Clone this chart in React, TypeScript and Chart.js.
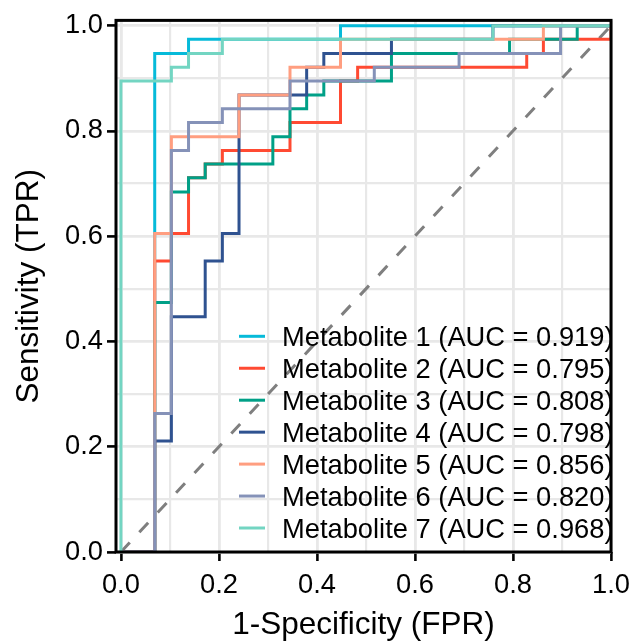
import React, { useEffect, useRef } from 'react';
import { Chart, registerables } from 'chart.js';

Chart.register(...registerables);

// ---- data ----
const names = ['Metabolite 1', 'Metabolite 2', 'Metabolite 3', 'Metabolite 4', 'Metabolite 5', 'Metabolite 6', 'Metabolite 7'];
const aucs = ['0.919', '0.795', '0.808', '0.798', '0.856', '0.820', '0.968'];
const colors = ['#06BAD9', '#FF4A32', '#00A087', '#2F5290', '#FF9E80', '#8592B8', '#73D5C2'];

const fpr1 = [0, 0.069, 0.069, 0.138, 0.138, 0.448, 0.448, 1];
const tpr1 = [0, 0, 0.947, 0.947, 0.974, 0.974, 1, 1];

const fpr2 = [0, 0.069, 0.069, 0.103, 0.103, 0.138, 0.138, 0.172, 0.172, 0.207, 0.207, 0.345, 0.345, 0.448, 0.448, 0.483, 0.483, 0.828, 0.828, 0.862, 0.862, 1, 1];
const tpr2 = [0, 0, 0.553, 0.553, 0.605, 0.605, 0.711, 0.711, 0.737, 0.737, 0.763, 0.763, 0.816, 0.816, 0.895, 0.895, 0.921, 0.921, 0.947, 0.947, 0.974, 0.974, 1];

const fpr3 = [0, 0.069, 0.069, 0.103, 0.103, 0.138, 0.138, 0.172, 0.172, 0.310, 0.310, 0.345, 0.345, 0.379, 0.379, 0.414, 0.414, 0.552, 0.552, 0.793, 0.793, 0.931, 0.931, 1];
const tpr3 = [0, 0, 0.474, 0.474, 0.684, 0.684, 0.711, 0.711, 0.737, 0.737, 0.789, 0.789, 0.842, 0.842, 0.868, 0.868, 0.895, 0.895, 0.947, 0.947, 0.974, 0.974, 1, 1];

const fpr4 = [0, 0.069, 0.069, 0.103, 0.103, 0.172, 0.172, 0.207, 0.207, 0.241, 0.241, 0.379, 0.379, 0.414, 0.414, 0.552, 0.552, 0.759, 0.759, 1];
const tpr4 = [0, 0, 0.211, 0.211, 0.447, 0.447, 0.553, 0.553, 0.605, 0.605, 0.868, 0.868, 0.921, 0.921, 0.947, 0.947, 0.974, 0.974, 1, 1];

const fpr5 = [0, 0.069, 0.069, 0.103, 0.103, 0.241, 0.241, 0.345, 0.345, 0.448, 0.448, 0.862, 0.862, 1];
const tpr5 = [0, 0, 0.605, 0.605, 0.789, 0.789, 0.868, 0.868, 0.921, 0.921, 0.974, 0.974, 1, 1];

const fpr6 = [0, 0.069, 0.069, 0.103, 0.103, 0.138, 0.138, 0.207, 0.207, 0.345, 0.345, 0.517, 0.517, 0.690, 0.690, 0.897, 0.897, 1];
const tpr6 = [0, 0, 0.263, 0.263, 0.763, 0.763, 0.816, 0.816, 0.842, 0.842, 0.895, 0.895, 0.921, 0.921, 0.947, 0.947, 1, 1];

const fpr7 = [0, 0, 0.103, 0.103, 0.138, 0.138, 0.207, 0.207, 0.759, 0.759, 1];
const tpr7 = [0, 0.895, 0.895, 0.921, 0.921, 0.947, 0.947, 0.974, 0.974, 1, 1];

const diagX = [0, 1];
const diagY = [0, 1];

const xTicks = [0, 0.1, 0.2, 0.3, 0.4, 0.5, 0.6, 0.7, 0.8, 0.9, 1.0];
const yTicks = [0, 0.1, 0.2, 0.3, 0.4, 0.5, 0.6, 0.7, 0.8, 0.9, 1.0];

const FONT = '"Liberation Sans", Arial, sans-serif';

const isMajor = (v: number) => Math.abs(Math.round(v * 10)) % 2 === 0;

export default function App() {
  const ref = useRef<HTMLCanvasElement | null>(null);

  useEffect(() => {
    const canvas = ref.current;
    if (!canvas) return;

    const series = [
      [fpr1, tpr1], [fpr2, tpr2], [fpr3, tpr3], [fpr4, tpr4],
      [fpr5, tpr5], [fpr6, tpr6], [fpr7, tpr7],
    ];

    const datasets: any[] = series.map(([f, t], i) => ({
      label: `${names[i]} (AUC = ${aucs[i]})`,
      data: f.map((x, k) => ({ x, y: t[k] })),
      borderColor: colors[i],
      backgroundColor: colors[i],
      borderWidth: 3,
      pointRadius: 0,
      tension: 0,
      fill: false,
      borderJoinStyle: 'miter',
      borderCapStyle: 'butt',
      order: 7 - i,
    }));
    datasets.push({
      label: 'reference',
      data: diagX.map((x, k) => ({ x, y: diagY[k] })),
      borderColor: '#7F7F7F',
      borderWidth: 3,
      borderDash: [13, 14],
      pointRadius: 0,
      tension: 0,
      fill: false,
      order: 20,
    });

    const overlay = {
      id: 'frameAndLegend',
      afterDraw(chart: any) {
        const { ctx, chartArea } = chart;
        const { left, right, top, bottom } = chartArea;
        ctx.save();
        const rowY0 = 336.3;
        const gap = 31.95;
        ctx.font = `27.3px ${FONT}`;
        ctx.textAlign = 'left';
        ctx.textBaseline = 'alphabetic';
        for (let i = 0; i < 7; i++) {
          const ds = chart.data.datasets[i];
          const y = rowY0 + gap * i;
          ctx.strokeStyle = ds.borderColor;
          ctx.lineWidth = 3;
          ctx.lineCap = 'butt';
          ctx.beginPath();
          ctx.moveTo(239, y);
          ctx.lineTo(265, y);
          ctx.stroke();
          ctx.fillStyle = '#000';
          ctx.fillText(ds.label, 282, y + 9.7);
        }
        ctx.strokeStyle = '#000';
        ctx.lineWidth = 3;
        ctx.strokeRect(left, top, right - left, bottom - top);
        ctx.restore();
      },
    };

    const tickFont = { family: FONT, size: 27.3 };
    const titleFont = { family: FONT, size: 31.5, lineHeight: 1 };

    const chart = new Chart(canvas, {
      type: 'line',
      data: { datasets },
      plugins: [overlay],
      options: {
        animation: false,
        responsive: false,
        devicePixelRatio: 1,
        layout: { padding: { left: 0, right: 21, top: 16, bottom: 0 } },
        plugins: { legend: { display: false }, tooltip: { enabled: false } },
        scales: {
          x: {
            type: 'linear',
            min: -0.01,
            max: 1.0,
            afterBuildTicks: (s: any) => { s.ticks = xTicks.map((v) => ({ value: v })); },
            afterFit: (s: any) => { s.height = 89; },
            border: { display: false },
            grid: {
              color: '#E8E8E8',
              lineWidth: (c: any) => (c.tick && isMajor(c.tick.value) ? 2.8 : 2.2),
              tickColor: (c: any) => (c.tick && isMajor(c.tick.value) ? '#000' : 'rgba(0,0,0,0)'),
              tickLength: 9,
              tickWidth: 2.6,
            },
            ticks: {
              autoSkip: false,
              maxRotation: 0,
              minRotation: 0,
              padding: 8,
              color: '#000',
              font: tickFont,
              callback: (v: any) => (isMajor(Number(v)) ? Number(v).toFixed(1) : ''),
            },
            title: {
              display: true,
              text: '1-Specificity (FPR)',
              color: '#000',
              font: titleFont,
              padding: { top: 0, bottom: 0 },
            },
          },
          y: {
            type: 'linear',
            min: 0,
            max: 1.01,
            afterBuildTicks: (s: any) => { s.ticks = yTicks.map((v) => ({ value: v })); },
            afterFit: (s: any) => { s.width = 116; },
            border: { display: false },
            grid: {
              color: '#E8E8E8',
              lineWidth: (c: any) => (c.tick && isMajor(c.tick.value) ? 2.8 : 2.2),
              tickColor: (c: any) => (c.tick && isMajor(c.tick.value) ? '#000' : 'rgba(0,0,0,0)'),
              tickLength: 9,
              tickWidth: 2.6,
            },
            ticks: {
              autoSkip: false,
              padding: 4,
              color: '#000',
              font: tickFont,
              callback: (v: any) => (isMajor(Number(v)) ? Number(v).toFixed(1) : ''),
            },
            title: {
              display: true,
              text: 'Sensitivity (TPR)',
              color: '#000',
              font: titleFont,
              padding: { top: 14, bottom: 0 },
            },
          },
        },
      } as any,
    });

    return () => chart.destroy();
  }, []);

  return (
    <div style={{ position: 'fixed', left: 0, top: 0, width: 638, height: 641, background: '#fff' }}>
      <canvas ref={ref} width={638} height={641} style={{ display: 'block', width: 638, height: 641 }} />
    </div>
  );
}
